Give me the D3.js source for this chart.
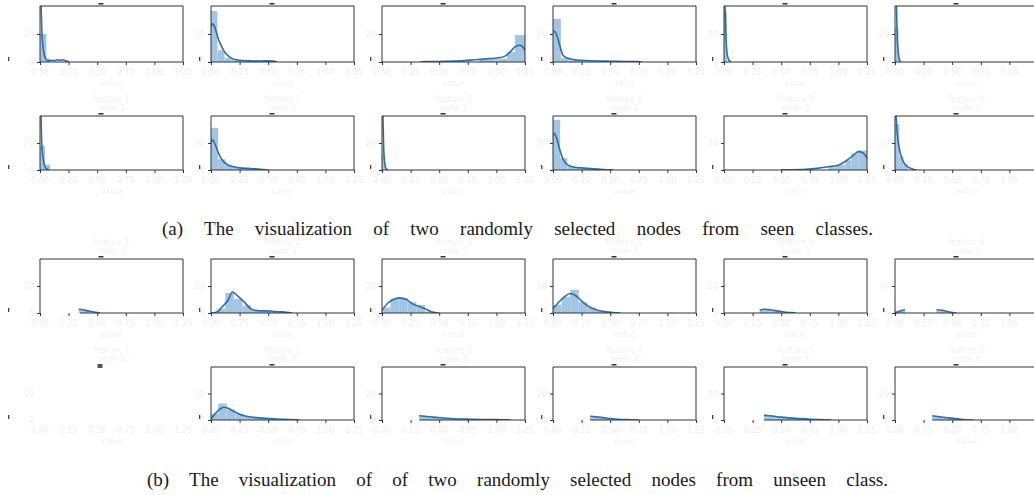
<!DOCTYPE html>
<html><head><meta charset="utf-8">
<script src="https://cdn.jsdelivr.net/npm/d3@7"></script>
<style>body{margin:0;background:#fff;overflow:hidden}</style>
</head><body>
<svg id="c" width="1034" height="495"></svg>
<script>
// ---------- data (normalised feature value 0..1, normalised density) ----------
const xTickValues = [0, 0.2, 0.4, 0.6, 0.8, 1.0];
const yTickValues = [0, 0.5];
const xTickLabels = ["0.00", "0.25", "0.50", "0.75", "1.00", "1.25"];
const yTickLabels = ["0", "20"];
const captionA = "(a) The visualization of two randomly selected nodes from seen classes.";
const captionB = "(b) The visualization of of two randomly selected nodes from unseen class.";

// Row A: seen node 1
const kdeRowA = [
  [[0.004,1.3],[0.008,0.95],[0.013,0.55],[0.02,0.3],[0.03,0.12],[0.045,0.04],[0.06,0.02],[0.08,0.03],[0.1,0.025],[0.12,0.04],[0.14,0.03],[0.16,0.04],[0.18,0.02],[0.2,0.005]],
  [[0,0.62],[0.01,0.68],[0.02,0.66],[0.035,0.55],[0.05,0.42],[0.07,0.3],[0.09,0.2],[0.12,0.11],[0.15,0.06],[0.2,0.03],[0.26,0.02],[0.32,0.015],[0.38,0.02],[0.43,0.015],[0.46,0.005]],
  [[0.27,0.005],[0.4,0.01],[0.55,0.02],[0.65,0.04],[0.75,0.06],[0.82,0.075],[0.87,0.12],[0.9,0.19],[0.93,0.27],[0.96,0.3],[0.98,0.28],[1.0,0.21]],
  [[0,0.52],[0.01,0.55],[0.03,0.45],[0.05,0.27],[0.07,0.12],[0.1,0.07],[0.14,0.045],[0.2,0.03],[0.35,0.015],[0.5,0.01],[0.62,0.005]],
  [[0.004,1.3],[0.008,0.9],[0.012,0.55],[0.018,0.25],[0.025,0.1],[0.035,0.03],[0.05,0.005]],
  [[0.008,1.3],[0.012,0.8],[0.016,0.4],[0.022,0.2],[0.03,0.05],[0.04,0]]
];
const binsRowA = [
  [[0,0.045,0.5],[0.045,0.07,0.06]],
  [[0,0.045,0.91],[0.045,0.095,0.21],[0.095,0.145,0.07],[0.145,0.195,0.05],[0.195,0.245,0.03],[0.245,0.295,0.02],[0.295,0.345,0.02],[0.345,0.395,0.02],[0.395,0.445,0.02]],
  [[0.68,0.75,0.04],[0.75,0.815,0.05],[0.815,0.875,0.06],[0.875,0.93,0.18],[0.93,1.0,0.48]],
  [[0,0.055,0.77],[0.055,0.11,0.07],[0.11,0.165,0.03],[0.165,0.22,0.02],[0.22,0.33,0.01]],
  [[0,0.02,0.9]],
  [[0,0.025,0.6]]
];

// Row B: seen node 2
const kdeRowB = [
  [[0.004,1.3],[0.008,0.9],[0.012,0.5],[0.02,0.25],[0.03,0.1],[0.045,0.02],[0.06,0]],
  [[0,0.5],[0.01,0.56],[0.025,0.5],[0.045,0.36],[0.065,0.24],[0.09,0.15],[0.12,0.09],[0.16,0.06],[0.2,0.04],[0.26,0.03],[0.31,0.02],[0.36,0.01],[0.4,0.003]],
  [[0.004,1.3],[0.008,0.8],[0.012,0.4],[0.018,0.15],[0.026,0.04],[0.04,0]],
  [[0,0.62],[0.01,0.68],[0.03,0.55],[0.05,0.35],[0.07,0.2],[0.1,0.1],[0.15,0.05],[0.2,0.04],[0.28,0.02],[0.35,0.01],[0.42,0.005]],
  [[0.4,0.003],[0.55,0.01],[0.65,0.03],[0.73,0.06],[0.8,0.09],[0.86,0.18],[0.9,0.26],[0.94,0.34],[0.97,0.32],[1.0,0.22]],
  [[0.005,1.1],[0.015,0.7],[0.03,0.4],[0.05,0.2],[0.08,0.08],[0.12,0.02],[0.15,0]]
];
const binsRowB = [
  [[0,0.035,0.45],[0.035,0.07,0.1]],
  [[0,0.05,0.78],[0.05,0.1,0.2],[0.1,0.15,0.1],[0.15,0.2,0.06],[0.2,0.25,0.04],[0.25,0.3,0.03],[0.3,0.35,0.02],[0.35,0.4,0.01]],
  [[0,0.02,0.3]],
  [[0,0.05,0.93],[0.05,0.1,0.22],[0.1,0.15,0.07],[0.15,0.2,0.04],[0.2,0.25,0.03],[0.25,0.3,0.02],[0.3,0.35,0.01]],
  [[0.73,0.79,0.05],[0.79,0.85,0.1],[0.85,0.89,0.18],[0.89,0.94,0.31],[0.94,1.0,0.36]],
  [[0,0.03,0.85],[0.03,0.06,0.25],[0.06,0.09,0.1]]
];

// Row C: unseen node 1
const kdeRowC = [
  [[0.27,0.07],[0.3,0.06],[0.35,0.03],[0.4,0.01],[0.42,0]],
  [[0,0],[0.05,0.03],[0.07,0.09],[0.12,0.24],[0.15,0.39],[0.18,0.33],[0.23,0.21],[0.29,0.06],[0.35,0.04],[0.4,0.04],[0.45,0.025],[0.5,0.02],[0.57,0]],
  [[0,0.05],[0.04,0.18],[0.08,0.25],[0.12,0.28],[0.17,0.25],[0.22,0.16],[0.26,0.12],[0.3,0.08],[0.35,0.02],[0.4,0]],
  [[0,0.08],[0.04,0.2],[0.08,0.3],[0.12,0.36],[0.16,0.32],[0.2,0.22],[0.25,0.12],[0.3,0.06],[0.35,0.03],[0.42,0.01],[0.47,0]],
  [[0.25,0.05],[0.28,0.07],[0.32,0.06],[0.37,0.04],[0.43,0.015],[0.5,0.003]],
  [[0,0],[0.04,0.04],[0.07,0.06],[0.07,null],[0.29,0.06],[0.33,0.05],[0.38,0.02],[0.43,0]]
];
const binsRowC = [
  [[0.27,0.34,0.05]],
  [[0.04,0.1,0.08],[0.1,0.16,0.37],[0.16,0.22,0.26],[0.22,0.28,0.14],[0.28,0.34,0.04],[0.34,0.4,0.04],[0.4,0.46,0.03],[0.46,0.52,0.02]],
  [[0,0.06,0.1],[0.06,0.12,0.27],[0.12,0.18,0.28],[0.18,0.24,0.2],[0.24,0.3,0.15],[0.3,0.36,0.03]],
  [[0,0.06,0.15],[0.06,0.12,0.3],[0.12,0.18,0.43],[0.18,0.24,0.2],[0.24,0.3,0.1],[0.3,0.36,0.04]],
  [[0.25,0.32,0.05],[0.32,0.39,0.04]],
  [[0,0.07,0.04],[0.29,0.36,0.04]]
];

// Row D: unseen node 2
const kdeRowD = [
  [],
  [[0,0.02],[0.03,0.12],[0.06,0.2],[0.09,0.24],[0.12,0.22],[0.16,0.16],[0.2,0.11],[0.25,0.07],[0.3,0.05],[0.38,0.03],[0.45,0.02],[0.55,0.01],[0.62,0]],
  [[0.26,0.08],[0.3,0.07],[0.38,0.05],[0.5,0.025],[0.62,0.015],[0.75,0.008],[0.88,0.003],[0.9,0]],
  [[0.26,0.07],[0.3,0.06],[0.36,0.04],[0.45,0.015],[0.55,0.005],[0.6,0]],
  [[0.28,0.09],[0.32,0.08],[0.4,0.055],[0.5,0.03],[0.6,0.015],[0.7,0.005],[0.75,0]],
  [[0.26,0.08],[0.3,0.065],[0.38,0.04],[0.46,0.015],[0.55,0]]
];
const binsRowD = [
  [],
  [[0,0.05,0.12],[0.05,0.11,0.31],[0.11,0.17,0.2],[0.17,0.23,0.12],[0.23,0.29,0.07],[0.29,0.35,0.05],[0.35,0.41,0.03],[0.41,0.47,0.02],[0.47,0.53,0.015]],
  [[0.26,0.33,0.07],[0.33,0.4,0.05],[0.4,0.47,0.035],[0.47,0.54,0.02],[0.54,0.61,0.015]],
  [[0.26,0.33,0.06],[0.33,0.4,0.04],[0.4,0.47,0.02]],
  [[0.28,0.35,0.08],[0.35,0.42,0.06],[0.42,0.49,0.04],[0.49,0.56,0.025],[0.56,0.63,0.015]],
  [[0.26,0.33,0.07],[0.33,0.4,0.04],[0.4,0.47,0.02]]
];

// ---------- layout ----------
const rows = [
  {kde: kdeRowA, bins: binsRowA, top: 6,   bottom: 62,  spineStart: [0,0,0,0,0,0], titles: false},
  {kde: kdeRowB, bins: binsRowB, top: 116, bottom: 170, spineStart: [0,0,0,0,0,0], titles: true},
  {kde: kdeRowC, bins: binsRowC, top: 259, bottom: 313, spineStart: [0.28,0,0,0,0,0], titles: true},
  {kde: kdeRowD, bins: binsRowD, top: 367, bottom: 420, spineStart: [null,0,0.26,0.26,0.28,0.26], titles: true}
];
const W = 1034;
const colLeft0 = 40, colStep = 171, panelW = 143;
const barColor = "#a3c5e2", lineColor = "#2a6ead", spineColor = "#333", faint = "#eeeeee";

const svg = d3.select("#c");
const defs = svg.append("defs");

rows.forEach((row, r) => {
  for (let c = 0; c < 6; c++) {
    const left = colLeft0 + c * colStep;
    const x = d3.scaleLinear().domain([0, 1]).range([left, left + panelW]);
    const y = d3.scaleLinear().domain([0, 1]).range([row.bottom, row.top]);
    const g = svg.append("g");
    const cx = left + panelW / 2;

    // faint title above panel
    if (row.titles) {
      g.append("text").attr("x", cx).attr("y", row.top - 14).attr("text-anchor", "middle")
        .attr("font-family", "DejaVu Sans").attr("font-size", 8).attr("fill", "#f1f1f1")
        .text("feature " + (c + 1));
      g.append("text").attr("x", cx).attr("y", row.top - 5).attr("text-anchor", "middle")
        .attr("font-family", "DejaVu Sans").attr("font-size", 8).attr("fill", "#f1f1f1")
        .text("node " + (r + 1));
    }

    // faint tick labels (only those that fit inside the picture)
    xTickValues.forEach((t, i) => {
      if (x(t) + 10 > W) return;
      g.append("text").attr("x", x(t)).attr("y", row.bottom + 13).attr("text-anchor", "middle")
        .attr("font-family", "DejaVu Sans").attr("font-size", 8).attr("fill", faint)
        .text(xTickLabels[i]);
    });
    g.append("text").attr("x", cx).attr("y", row.bottom + 24).attr("text-anchor", "middle")
      .attr("font-family", "DejaVu Sans").attr("font-size", 8).attr("fill", "#f2f2f2")
      .text("value");
    yTickValues.forEach((t, i) => {
      g.append("text").attr("x", left - 6).attr("y", y(t) + 3).attr("text-anchor", "end")
        .attr("font-family", "DejaVu Sans").attr("font-size", 8).attr("fill", faint)
        .text(yTickLabels[i]);
    });

    // dark mark left of the panel
    const markX = c === 0 ? 8 : left - 12;
    g.append("rect").attr("x", markX).attr("y", row.bottom - 5).attr("width", 1.3).attr("height", 4).attr("fill", "#444");

    const ss = row.spineStart[c];
    if (ss === null) {
      g.append("rect").attr("x", cx - 14).attr("y", row.top - 3).attr("width", 5).attr("height", 4).attr("fill", "#555");
      continue;
    }
    // title dash
    g.append("rect").attr("x", cx - 13).attr("y", row.top - 3).attr("width", 5).attr("height", 1.5).attr("fill", "#333");

    const clipId = "clip" + r + "_" + c;
    defs.append("clipPath").attr("id", clipId).append("rect")
      .attr("x", left).attr("y", row.top).attr("width", panelW).attr("height", row.bottom - row.top);
    const plot = g.append("g").attr("clip-path", "url(#" + clipId + ")");

    plot.selectAll("rect.bar").data(row.bins[c]).join("rect").attr("class", "bar")
      .attr("x", d => x(d[0])).attr("width", d => x(d[1]) - x(d[0]))
      .attr("y", d => y(d[2])).attr("height", d => y(0) - y(d[2]))
      .attr("fill", barColor);

    const line = d3.line().defined(d => d[1] !== null)
      .x(d => x(d[0])).y(d => y(d[1])).curve(d3.curveMonotoneX);
    plot.append("path").datum(row.kde[c]).attr("d", line)
      .attr("fill", "none").attr("stroke", lineColor).attr("stroke-width", 1.6);

    // spines
    const sp = g.append("g").attr("stroke", spineColor).attr("stroke-width", 1).attr("fill", "none");
    sp.append("line").attr("x1", x(0)).attr("x2", x(1)).attr("y1", row.top).attr("y2", row.top);
    sp.append("line").attr("x1", x(0)).attr("x2", x(0)).attr("y1", row.top).attr("y2", row.bottom);
    sp.append("line").attr("x1", x(1)).attr("x2", x(1)).attr("y1", row.top).attr("y2", row.bottom);
    sp.append("line").attr("x1", x(ss)).attr("x2", x(1)).attr("y1", row.bottom).attr("y2", row.bottom);

    // ticks
    const xa = g.append("g").attr("transform", `translate(0,${row.bottom})`)
      .call(d3.axisBottom(x).tickValues(xTickValues).tickSize(3).tickFormat(""));
    xa.select(".domain").remove();
    xa.selectAll("line").attr("stroke", spineColor);
    const ya = g.append("g").attr("transform", `translate(${left},0)`)
      .call(d3.axisLeft(y).tickValues(yTickValues).tickSize(3).tickFormat(""));
    ya.select(".domain").remove();
    ya.selectAll("line").attr("stroke", spineColor);
  }
});

// captions
function caption(txt, x0, x1, baseline) {
  const t = svg.append("text").attr("x", x0).attr("y", baseline)
    .attr("font-family", "Liberation Serif, Times New Roman, serif").attr("font-size", 19)
    .attr("fill", "#1a1a1a").text(txt);
  const len = t.node().getComputedTextLength();
  const spaces = (txt.match(/ /g) || []).length;
  t.style("word-spacing", Math.max(0, (x1 - x0 - len) / spaces) + "px");
}
caption(captionA, 162, 873, 235);
caption(captionB, 147, 888, 486);
</script>
</body></html>
